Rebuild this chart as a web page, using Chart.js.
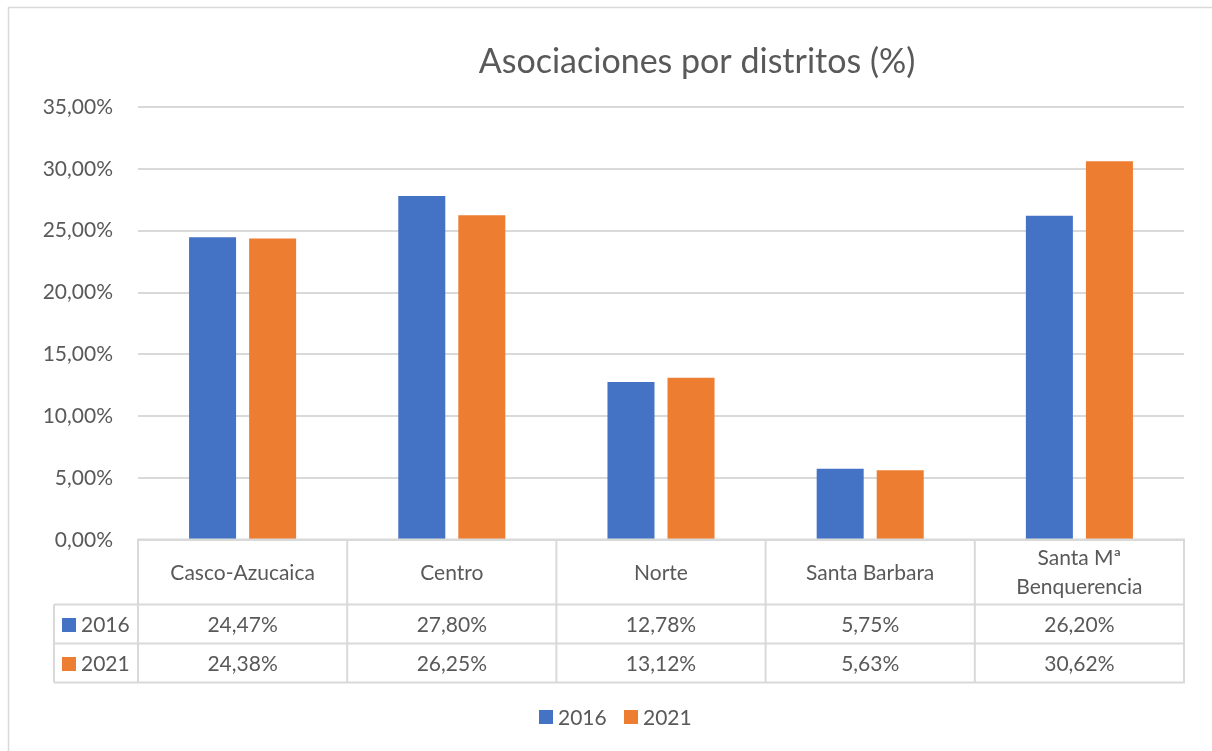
<!DOCTYPE html>
<html>
<head>
<meta charset="utf-8">
<script src="https://cdn.jsdelivr.net/npm/chart.js@4"></script>
<style>
  html, body { margin: 0; padding: 0; background: #fff; }
  #wrap { width: 1212px; height: 751px; position: relative; }
</style>
</head>
<body>
<div id="wrap"><canvas id="distChart" width="1212" height="751"></canvas></div>
<script>
var districts = ['Casco-Azucaica', 'Centro', 'Norte', 'Santa Barbara', ['Santa Mª', 'Benquerencia']];
var years = ['2016', '2021'];
var values2016 = [24.47, 27.80, 12.78, 5.75, 26.20];
var values2021 = [24.38, 26.25, 13.12, 5.63, 30.62];
var yTicks = [0, 5, 10, 15, 20, 25, 30, 35];

var chartTitle = 'Asociaciones por distritos (%)';
var colors = ['#4472C4', '#ED7D31'];
var textColor = '#595959';
var lineColor = '#D9D9D9';
var fontFamily = 'Lato, "Open Sans", sans-serif';
var fontSize = 21;

function fmtPct(v) {
    return v.toFixed(2).replace('.', ',') + '%';
}

// draws the title, the data table under the axis, the legend and the frame
var tablePlugin = {
    id: 'dataTable',
    afterDraw: function (chart) {
        var ctx = chart.ctx;
        var area = chart.chartArea;
        var x = chart.scales.x;
        var n = districts.length;
        var colW = (area.right - area.left) / n;
        var catTop = area.bottom - 0.5;
        var row1 = catTop + 65;
        var row2 = row1 + 39;
        var row3 = row2 + 39;
        var keyLeft = 54;

        ctx.save();
        // outer frame
        ctx.strokeStyle = lineColor;
        ctx.lineWidth = 1.5;
        ctx.beginPath();
        ctx.moveTo(8.5, chart.height + 5);
        ctx.lineTo(8.5, 7.5);
        ctx.lineTo(chart.width + 5, 7.5);
        ctx.stroke();

        // title
        ctx.fillStyle = textColor;
        ctx.font = '34px ' + fontFamily;
        ctx.textAlign = 'center';
        ctx.textBaseline = 'middle';
        ctx.fillText(chartTitle, 697, 62);

        // table grid
        ctx.lineWidth = 2;
        ctx.beginPath();
        ctx.moveTo(area.left - 1, catTop);
        ctx.lineTo(area.right + 1, catTop);
        [row1, row2, row3].forEach(function (yy) {
            ctx.moveTo(keyLeft, yy);
            ctx.lineTo(area.right + 1, yy);
        });
        for (var i = 0; i <= n; i++) {
            var xx = area.left + i * colW;
            ctx.moveTo(xx, catTop);
            ctx.lineTo(xx, row3);
        }
        ctx.moveTo(keyLeft, row1);
        ctx.lineTo(keyLeft, row3);
        ctx.stroke();

        // category labels
        ctx.font = fontSize + 'px ' + fontFamily;
        ctx.fillStyle = textColor;
        districts.forEach(function (label, i) {
            var cx = x.getPixelForValue(i);
            var lines = Array.isArray(label) ? label : [label];
            var lh = 29;
            var y0 = (catTop + row1) / 2 + 1 - (lines.length - 1) * lh / 2;
            lines.forEach(function (t, j) {
                ctx.fillText(t, cx, y0 + j * lh);
            });
        });

        // value rows
        var series = [values2016, values2021];
        var rowMid = [(row1 + row2) / 2 + 1, (row2 + row3) / 2 + 1];
        series.forEach(function (vals, s) {
            ctx.textAlign = 'center';
            ctx.fillStyle = textColor;
            vals.forEach(function (v, i) {
                ctx.fillText(fmtPct(v), x.getPixelForValue(i), rowMid[s]);
            });
            ctx.fillStyle = colors[s];
            ctx.fillRect(62, rowMid[s] - 7, 14, 14);
            ctx.fillStyle = textColor;
            ctx.textAlign = 'left';
            ctx.fillText(years[s], 81, rowMid[s]);
        });

        // legend at the bottom
        var legX = [539, 624];
        years.forEach(function (yr, s) {
            ctx.fillStyle = colors[s];
            ctx.fillRect(legX[s], 710, 14, 14);
            ctx.fillStyle = textColor;
            ctx.textAlign = 'left';
            ctx.fillText(yr, legX[s] + 19, 718);
        });
        ctx.restore();
    }
};

var ctx = document.getElementById('distChart').getContext('2d');
var myChart = new Chart(ctx, {
    type: 'bar',
    data: {
        labels: districts,
        datasets: [{
            label: years[0],
            data: values2016,
            backgroundColor: colors[0],
            categoryPercentage: 0.574,
            barPercentage: 0.783
        }, {
            label: years[1],
            data: values2021,
            backgroundColor: colors[1],
            categoryPercentage: 0.574,
            barPercentage: 0.783
        }]
    },
    options: {
        responsive: false,
        animation: false,
        layout: {
            padding: { left: 0, right: 28, top: 107, bottom: 211 }
        },
        plugins: {
            legend: { display: false },
            title: { display: false },
            tooltip: { enabled: false }
        },
        scales: {
            x: {
                display: false
            },
            y: {
                min: yTicks[0],
                max: yTicks[yTicks.length - 1],
                afterBuildTicks: function (scale) {
                    scale.ticks = yTicks.map(function (v) { return { value: v }; });
                },
                afterFit: function (scale) {
                    scale.width = 138;
                },
                border: { display: false },
                grid: {
                    color: lineColor,
                    lineWidth: 2,
                    drawTicks: false
                },
                ticks: {
                    padding: 25,
                    color: textColor,
                    font: { family: fontFamily, size: fontSize },
                    callback: function (v) { return fmtPct(v); }
                }
            }
        }
    },
    plugins: [tablePlugin]
});
</script>
</body>
</html>
